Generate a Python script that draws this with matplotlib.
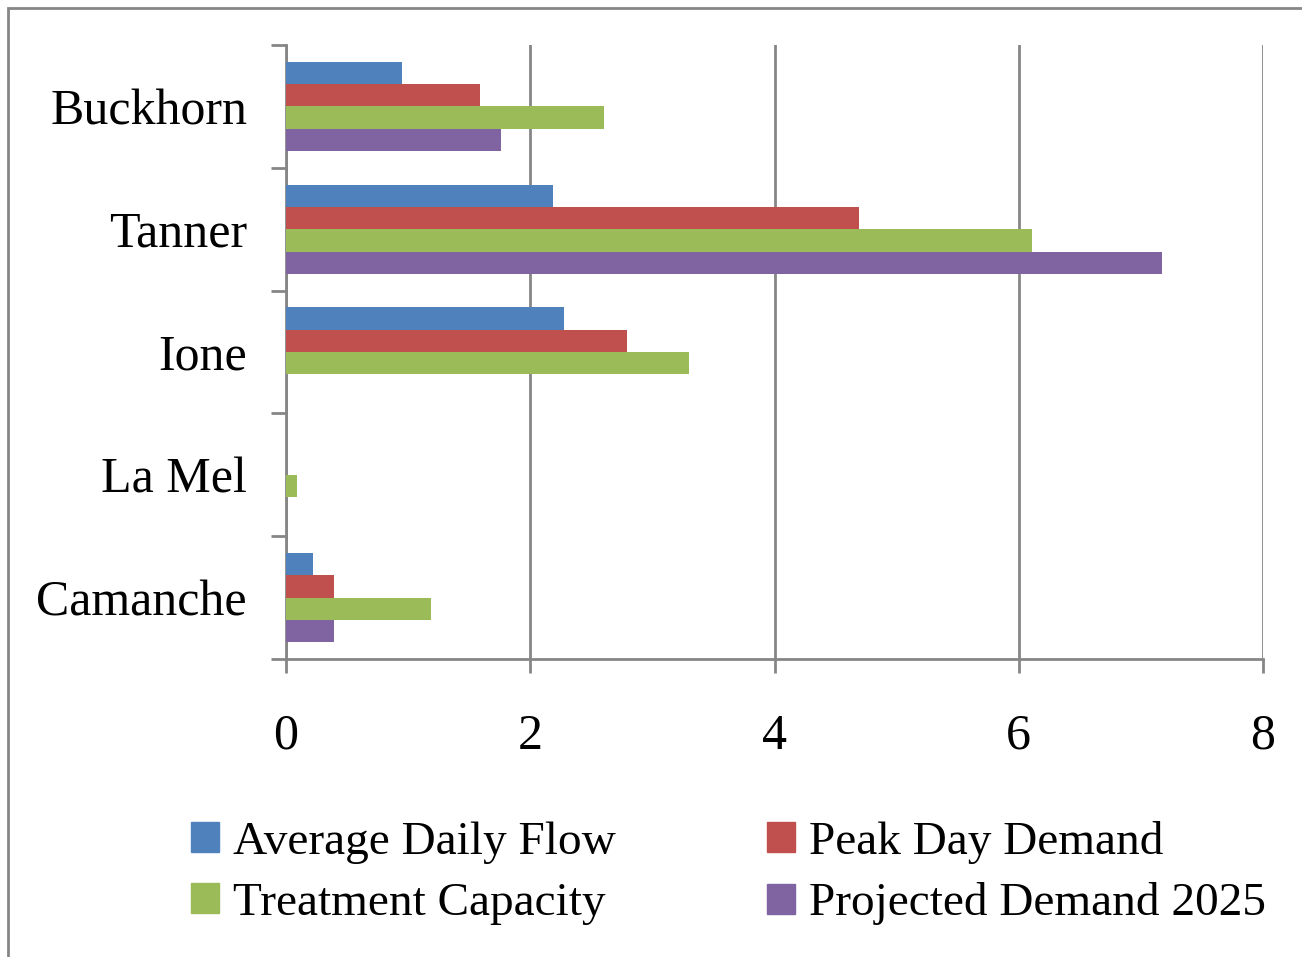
import numpy as np
import matplotlib
matplotlib.use("Agg")
import matplotlib.pyplot as plt
from matplotlib.patches import Patch, Rectangle

plt.rcParams['font.family'] = ['Liberation Serif', 'DejaVu Serif']

# data, bottom to top as drawn
plants = ['Camanche', 'La Mel', 'Ione', 'Tanner', 'Buckhorn']
avg_daily_flow = [0.22, 0.0, 2.28, 2.19, 0.95]
peak_day_demand = [0.39, 0.0, 2.79, 4.69, 1.59]
treatment_capacity = [1.19, 0.09, 3.30, 6.11, 2.60]
projected_demand_2025 = [0.39, 0.0, 0.0, 7.17, 1.76]

series = [
    ('Average Daily Flow', avg_daily_flow, '#4F81BD'),
    ('Peak Day Demand', peak_day_demand, '#C0504D'),
    ('Treatment Capacity', treatment_capacity, '#9BBB59'),
    ('Projected Demand 2025', projected_demand_2025, '#8064A2'),
]

grey = '#868686'
fig = plt.figure(figsize=(13.02, 9.57), dpi=100)
ax = fig.add_axes([286 / 1302, 1 - 659 / 957, (1263 - 286) / 1302, (659 - 45) / 957])

y = np.arange(len(plants))
h = 1 / 5.5
offsets = [1.5 * h, 0.5 * h, -0.5 * h, -1.5 * h]
for (name, vals, col), off in zip(series, offsets):
    ax.barh(y + off, vals, height=h, color=col, label=name, zorder=3)

ax.set_xlim(0, 8)
ax.set_ylim(-0.5, 4.5)
ax.set_xticks([0, 2, 4, 6, 8])
ax.set_xticklabels(['0', '2', '4', '6', '8'], fontsize=36)
ax.xaxis.grid(True, color=grey, linewidth=2, zorder=0)

# category boundaries get tick marks, names sit between
ax.set_yticks(np.arange(-0.5, 5, 1))
ax.set_yticklabels([])
ax.set_yticks(y, minor=True)
ax.set_yticklabels(plants, minor=True, fontsize=36)
ax.tick_params(axis='y', which='major', length=11, width=2, color=grey)
ax.tick_params(axis='y', which='minor', length=0, pad=28)
ax.tick_params(axis='x', length=10, width=2, color=grey, pad=29)

for s in ['top', 'right']:
    ax.spines[s].set_visible(False)
for s in ['left', 'bottom']:
    ax.spines[s].set_color(grey)
    ax.spines[s].set_linewidth(2)
ax.spines['bottom'].set_zorder(4)

handles = [Patch(color=c) for _, _, c in series]
labels = [n for n, _, _ in series]
order = [0, 2, 1, 3]
fig.legend([handles[i] for i in order], [labels[i] for i in order],
           ncol=2, loc='upper left', bbox_to_anchor=(148 / 1302, 1 - 778 / 957),
           frameon=False, fontsize=34, handlelength=0.6, handleheight=0.6,
           handletextpad=0.3, columnspacing=3.2, labelspacing=0.4)

fig.patches.append(Rectangle((8 / 1302, -0.1), 1.2, 1 - 8 / 957 + 0.1,
                             transform=fig.transFigure, fill=False,
                             edgecolor=grey, linewidth=2, clip_on=False))

fig.savefig('out.png', dpi=100)
